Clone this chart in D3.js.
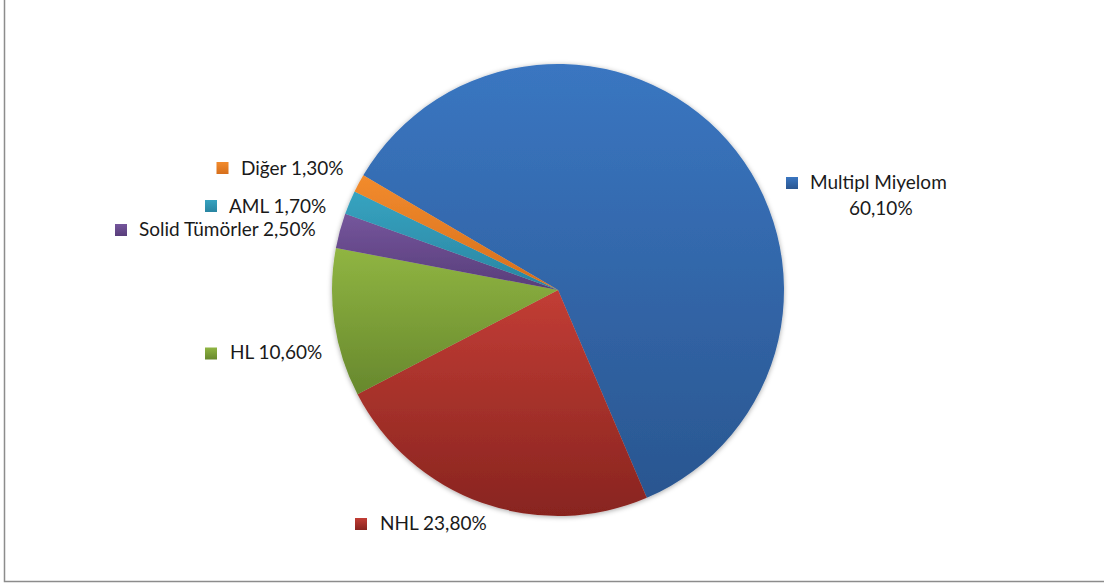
<!DOCTYPE html>
<html>
<head>
<meta charset="utf-8">
<script src="https://cdn.jsdelivr.net/npm/d3@7"></script>
<style>
  html, body { margin: 0; padding: 0; background: #ffffff; }
  svg { display: block; }
  text { font-family: Lato, "Liberation Sans", Arial, sans-serif; fill: #1a1a1a; }
</style>
</head>
<body>
<svg id="chart" width="1104" height="585"></svg>
<script>
// Hastalık dağılımı (%)
const categories = ["Multipl Miyelom", "NHL", "HL", "Solid Tümörler", "AML", "Diğer"];
const values = [60.1, 23.8, 10.6, 2.5, 1.7, 1.3];
const valueLabels = ["60,10%", "23,80%", "10,60%", "2,50%", "1,70%", "1,30%"];
const topColors = ["#3a76c1", "#c23d35", "#90b542", "#75569c", "#37a3c0", "#f28b2d"];
const bottomColors = ["#2a5690", "#88241f", "#67882d", "#583d7a", "#2985a2", "#d66f1c"];

const svg = d3.select("#chart");
const width = 1104, height = 585;
const cx = 558, cy = 290, radius = 226;

// Frame (left and bottom edges visible)
svg.append("rect")
  .attr("x", 4.5).attr("y", -10)
  .attr("width", width + 20).attr("height", 591.5)
  .attr("fill", "none").attr("stroke", "#8c8c8c").attr("stroke-width", 1.5);

const defs = svg.append("defs");
categories.forEach((c, i) => {
  const g = defs.append("linearGradient")
    .attr("id", "grad" + i).attr("x1", 0).attr("y1", 0).attr("x2", 0).attr("y2", 1);
  g.append("stop").attr("offset", "0%").attr("stop-color", topColors[i]);
  g.append("stop").attr("offset", "100%").attr("stop-color", bottomColors[i]);
});
const shadow = defs.append("filter").attr("id", "pieShadow")
  .attr("x", "-10%").attr("y", "-10%").attr("width", "120%").attr("height", "120%");
shadow.append("feDropShadow").attr("dx", 0).attr("dy", 1).attr("stdDeviation", 2.5)
  .attr("flood-color", "#000").attr("flood-opacity", 0.35);

const start = -59.5 * Math.PI / 180;
const pie = d3.pie().sort(null).value(d => d).startAngle(start).endAngle(start + 2 * Math.PI);
const arc = d3.arc().innerRadius(0).outerRadius(radius);

const g = svg.append("g").attr("transform", `translate(${cx},${cy})`).attr("filter", "url(#pieShadow)");
g.selectAll("path.slice")
  .data(pie(values))
  .join("path")
  .attr("class", "slice")
  .attr("d", arc)
  .attr("fill", (d, i) => `url(#grad${i})`);

// Data labels with legend keys
const labels = [
  { i: 0, mx: 786, my: 177, lines: [{ t: "Multipl Miyelom", x: 810, y: 189 }, { t: "60,10%", x: 849, y: 215 }] },
  { i: 1, mx: 355, my: 518, lines: [{ t: "NHL 23,80%", x: 380, y: 530 }] },
  { i: 2, mx: 205, my: 347.5, lines: [{ t: "HL 10,60%", x: 230, y: 359 }] },
  { i: 3, mx: 115, my: 224, lines: [{ t: "Solid Tümörler 2,50%", x: 139, y: 236 }] },
  { i: 4, mx: 205, my: 200, lines: [{ t: "AML 1,70%", x: 229, y: 212.5 }] },
  { i: 5, mx: 216.5, my: 162, lines: [{ t: "Diğer 1,30%", x: 241, y: 174.5 }] }
];
labels.forEach(l => {
  l.lines[l.lines.length - 1].t = l.lines[l.lines.length - 1].t.replace(/[\d,]+%$/, valueLabels[l.i]);
});

const lab = svg.append("g");
labels.forEach(l => {
  lab.append("rect")
    .attr("x", l.mx).attr("y", l.my).attr("width", 12).attr("height", 12)
    .attr("fill", `url(#grad${l.i})`);
  l.lines.forEach(ln => {
    lab.append("text").attr("x", ln.x).attr("y", ln.y)
      .attr("font-size", 19).text(ln.t);
  });
});
</script>
</body>
</html>
